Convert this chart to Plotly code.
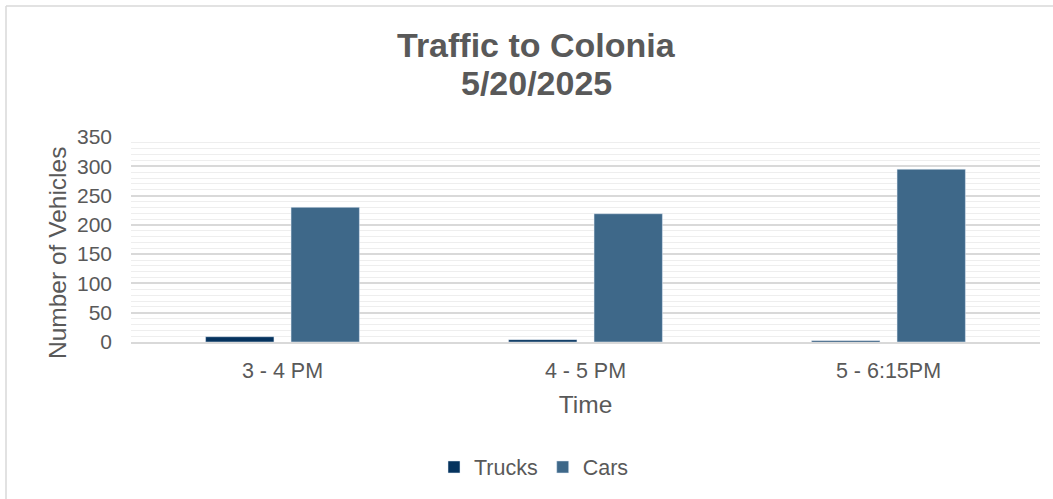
import plotly.graph_objects as go

# Hourly vehicle counts heading to Colonia
time_slots = ["3 - 4 PM", "4 - 5 PM", "5 - 6:15PM"]
trucks = [9, 4, 2]
cars = [230, 219, 295]

y_ticks = [0, 50, 100, 150, 200, 250, 300, 350]

W_FIG, H_FIG = 1053, 499
L, R, T, B = 131, 13, 137, 157
PW, PH = W_FIG - L - R, H_FIG - T - B

TEXT = "#595959"
FONT = "Liberation Sans, Arial, sans-serif"


def px_x(p):
    return (p - L) / PW


def px_y(p):
    return 1 - (p - T) / PH


fig = go.Figure()
fig.add_trace(go.Bar(name="Trucks", x=time_slots, y=trucks, marker_color="#05335E"))
fig.add_trace(go.Bar(name="Cars", x=time_slots, y=cars, marker_color="#3E6889"))

fig.update_layout(
    width=W_FIG,
    height=H_FIG,
    margin=dict(l=L, r=R, t=T, b=B, autoexpand=False),
    paper_bgcolor="white",
    plot_bgcolor="white",
    barmode="group",
    bargap=0.436,
    bargroupgap=0.2,
    font=dict(family=FONT, color=TEXT, size=21.5),
    showlegend=True,
    legend=dict(
        orientation="h",
        x=px_x(534),
        xanchor="center",
        y=px_y(467),
        yanchor="middle",
        font=dict(size=21.5, color=TEXT),
        itemwidth=30,
        bgcolor="rgba(0,0,0,0)",
    ),
    xaxis=dict(
        showgrid=False,
        showline=True,
        linecolor="#D9D9D9",
        linewidth=1.5,
        ticks="",
        ticklabelstandoff=8,
        tickfont=dict(size=21.5, color=TEXT),
        title=dict(text="Time", font=dict(size=24.5, color=TEXT), standoff=14),
    ),
    yaxis=dict(
        range=[0, 350],
        tickvals=y_ticks,
        showgrid=True,
        gridcolor="#D9D9D9",
        gridwidth=1.5,
        zeroline=False,
        showline=False,
        ticks="",
        ticklabelstandoff=18,
        tickfont=dict(size=21, color=TEXT),
        minor=dict(dtick=10, showgrid=True, gridcolor="#EEEEEE", gridwidth=1),
    ),
)

# Vertical value-axis title
fig.add_annotation(
    text="Number of Vehicles", x=px_x(57), y=px_y(253),
    xref="paper", yref="paper", xanchor="center", yanchor="middle",
    textangle=-90, showarrow=False, font=dict(size=24.5, color=TEXT, family=FONT),
)

# Two-line chart title
fig.add_annotation(
    text="<b>Traffic to Colonia</b>", x=px_x(536), y=px_y(45),
    xref="paper", yref="paper", xanchor="center", yanchor="middle",
    showarrow=False, font=dict(size=34, color=TEXT, family=FONT),
)
fig.add_annotation(
    text="<b>5/20/2025</b>", x=px_x(536), y=px_y(83),
    xref="paper", yref="paper", xanchor="center", yanchor="middle",
    showarrow=False, font=dict(size=34, color=TEXT, family=FONT),
)

# Chart-area frame (left and top edges)
fig.add_shape(type="line", xref="paper", yref="paper",
              x0=px_x(6), x1=px_x(1060), y0=px_y(6), y1=px_y(6),
              line=dict(color="#D9D9D9", width=1.5))
fig.add_shape(type="line", xref="paper", yref="paper",
              x0=px_x(6), x1=px_x(6), y0=px_y(6), y1=px_y(510),
              line=dict(color="#D9D9D9", width=1.5))

fig.write_html("out.html")
